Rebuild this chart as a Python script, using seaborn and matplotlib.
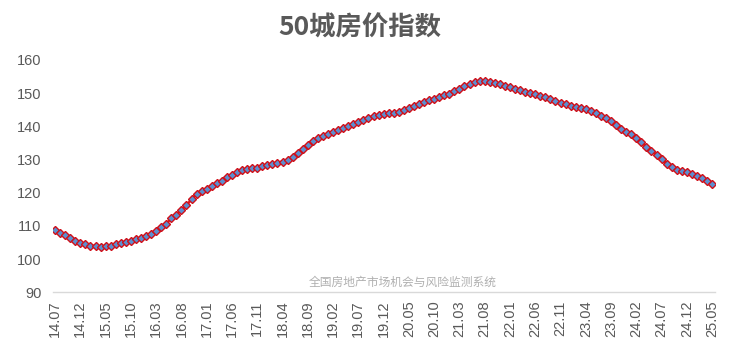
import matplotlib
matplotlib.use("Agg")
import matplotlib.pyplot as plt
import seaborn as sns
import pandas as pd
import numpy as np

title = "50城房价指数"
watermark = "全国房地产市场机会与风险监测系统"
start_year, start_month = 2014, 7

values = [
    108.8, 108.0, 107.3, 106.3, 105.6, 104.9, 104.5, 104.1, 103.9, 103.8,
    103.9, 104.1, 104.5, 104.9, 105.3, 105.6, 106.0, 106.4, 106.9, 107.6,
    108.5, 109.7, 110.6,
    112.4, 113.4, 114.8, 116.3, 118.0, 119.7, 120.5, 121.2, 122.0, 122.9,
    123.6, 124.6, 125.5, 126.2, 126.9, 127.1, 127.4, 127.6, 128.0, 128.3,
    128.6, 129.0,
    129.4, 129.9, 130.8, 132.0, 133.2, 134.5, 135.5, 136.4, 137.1, 137.7,
    138.2, 138.8, 139.4, 140.1, 140.8, 141.4, 142.0, 142.6, 143.1, 143.3,
    143.7, 143.9,
    144.1, 144.4, 144.8, 145.4, 146.1, 146.8, 147.4, 147.9, 148.3, 148.8,
    149.3, 149.8, 150.5, 151.3, 152.1, 152.8, 153.3, 153.6, 153.7, 153.5,
    153.1,
    152.7, 152.2, 151.7, 151.3, 150.8, 150.4, 150.0, 149.6, 149.2, 148.7,
    148.2, 147.7, 147.0, 146.6, 146.2, 145.9, 145.6, 145.2, 144.6, 144.0,
    143.2,
    142.5, 141.6, 140.5, 139.3, 138.3, 137.7, 136.5, 135.2, 133.9, 132.7,
    131.5, 130.2, 128.8, 127.7, 127.0, 126.6, 126.2, 125.6, 125.1, 124.4,
    123.6, 122.6,
]

tick_labels = ["14.07", "14.12", "15.05", "15.10", "16.03", "16.08", "17.01",
               "17.06", "17.11", "18.04", "18.09", "19.02", "19.07", "19.12",
               "20.05", "20.10", "21.03", "21.08", "22.01", "22.06", "22.11",
               "23.04", "23.09", "24.02", "24.07", "24.12", "25.05"]
yticks = [90, 100, 110, 120, 130, 140, 150, 160]

months = []
y, m = start_year, start_month
for _ in values:
    months.append(f"{y % 100:02d}.{m:02d}")
    m += 1
    if m > 12:
        m = 1
        y += 1

df = pd.DataFrame({"idx": np.arange(len(values)), "month": months, "value": values})

sns.set_theme(style="white")
plt.rcParams["font.family"] = ["Noto Sans CJK SC", "DejaVu Sans"]

fig = plt.figure(figsize=(7.30, 3.61), dpi=100)
ax = fig.add_axes([0.072, 0.19, 0.907, 0.644])

sns.lineplot(data=df, x="idx", y="value", ax=ax, color="#E8121B", linewidth=1.8,
             marker="D", markersize=4.5, markerfacecolor="#5B8FD0",
             markeredgecolor="#D0101A", markeredgewidth=1.0)

ax.set_xlim(-0.5, len(values) - 0.5)
ax.set_ylim(90, 160)
ax.set_yticks(yticks)
ax.set_yticklabels([str(v) for v in yticks])
tick_pos = [months.index(t) for t in tick_labels]
ax.set_xticks(tick_pos)
ax.set_xticklabels(tick_labels, rotation=90)
ax.tick_params(axis="both", length=0, colors="#595959", labelsize=10.5)
ax.tick_params(axis="x", pad=6)
ax.tick_params(axis="y", pad=8)
for lab in ax.get_xticklabels() + ax.get_yticklabels():
    lab.set_family(["Liberation Sans", "DejaVu Sans"])
ax.set_xlabel("")
ax.set_ylabel("")
ax.grid(False)
for s in ["top", "left", "right"]:
    ax.spines[s].set_visible(False)
ax.spines["bottom"].set_color("#D9D9D9")
ax.spines["bottom"].set_linewidth(1.0)

fig.text(0.493, 0.922, title, ha="center", va="center", fontsize=19,
         fontweight="bold", color="#595959")
fig.text(0.551, 0.219, watermark, ha="center", va="center", fontsize=8.5,
         color="#B0B0B0")

fig.savefig("out.png", dpi=100)
